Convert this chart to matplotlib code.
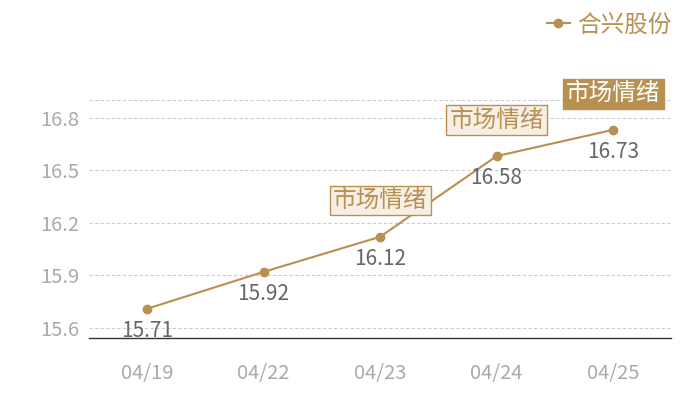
import matplotlib
matplotlib.use('Agg')
import matplotlib.pyplot as plt

plt.rcParams['font.family'] = ['Noto Sans CJK SC', 'DejaVu Sans']

dates = ['04/19', '04/22', '04/23', '04/24', '04/25']
prices = [15.71, 15.92, 16.12, 16.58, 16.73]
series_name = '合兴股份'
tag_text = '市场情绪'
tag_idx = [2, 3]       # light tags
tag_strong_idx = [4]   # filled tag
yticks = [15.6, 15.9, 16.2, 16.5, 16.8]

gold = '#b8904f'

fig = plt.figure(figsize=(7, 4), dpi=100)
ax = fig.add_axes([0.127, 0.155, 0.832, 0.595])

x = list(range(len(dates)))
ax.plot(x, prices, color=gold, lw=1.5, marker='o', ms=6, label=series_name)

for i, v in zip(x, prices):
    ax.annotate(f'{v:.2f}', (i, v), xytext=(0, -16), textcoords='offset points',
                ha='center', va='center', fontsize=15, color='#666666')

for i in tag_idx:
    ax.annotate(tag_text, (i, prices[i]), xytext=(0, 26), textcoords='offset points',
                ha='center', va='center', fontsize=17, color=gold,
                bbox=dict(boxstyle='square,pad=0.14', fc='#f5efe6', ec=gold, lw=1))
for i in tag_strong_idx:
    ax.annotate(tag_text, (i, prices[i]), xytext=(0, 26), textcoords='offset points',
                ha='center', va='center', fontsize=17, color='white',
                bbox=dict(boxstyle='square,pad=0.14', fc=gold, ec=gold, lw=1))

ax.set_xlim(-0.5, len(dates) - 0.5)
ax.set_ylim(15.543, 16.9)
ax.set_xticks(x)
ax.set_xticklabels(dates)
ax.set_yticks(yticks)
ax.set_yticklabels([f'{t:.1f}' for t in yticks])
ax.tick_params(axis='both', length=0, labelsize=14.5, colors='#aaaaaa')
ax.tick_params(axis='x', pad=18)
ax.tick_params(axis='y', pad=7)

for y in yticks + [16.9]:
    ax.axhline(y, color='#cccccc', lw=0.8, ls=(0, (3, 2)), zorder=0)

for s in ['top', 'right', 'left']:
    ax.spines[s].set_visible(False)
ax.spines['bottom'].set_color('#333333')
ax.spines['bottom'].set_linewidth(1)

fig.legend(loc='upper right', bbox_to_anchor=(0.99, 1.02), frameon=False,
           fontsize=17, labelcolor=gold, handlelength=1.0, handletextpad=0.3)

fig.savefig('out.png', dpi=100)
